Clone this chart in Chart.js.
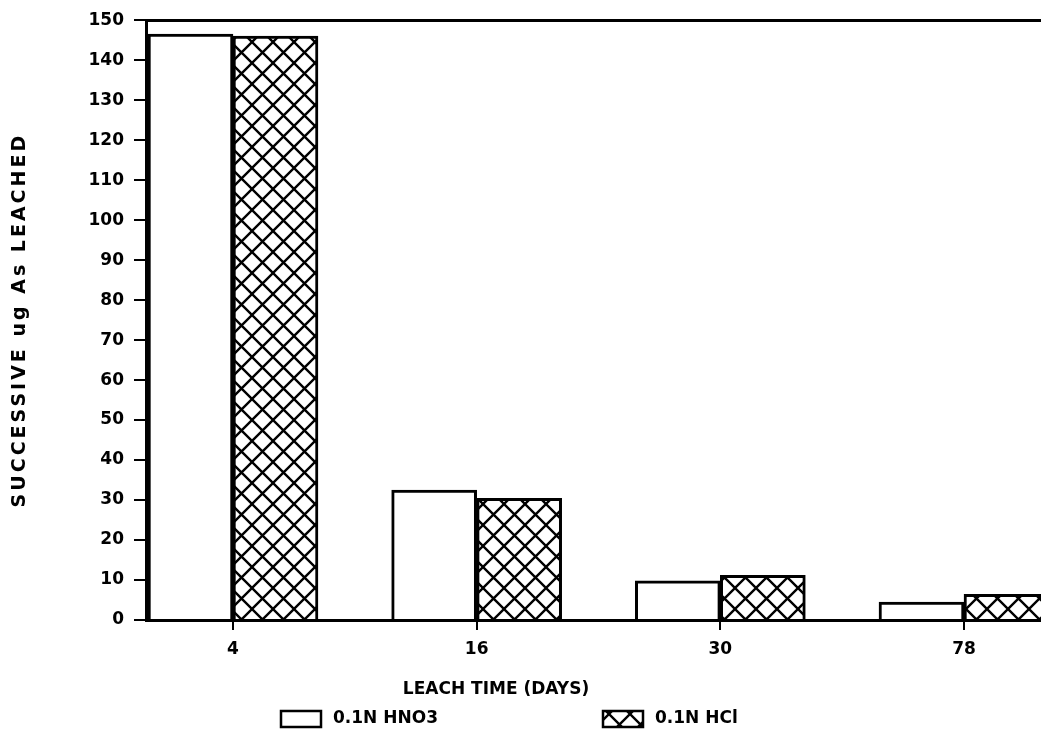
<!DOCTYPE html>
<html>
<head>
<meta charset="utf-8">
<script src="https://cdn.jsdelivr.net/npm/chart.js@4.4.1/dist/chart.umd.min.js"></script>
<style>
  html, body { margin: 0; padding: 0; background: #fff; }
  canvas { display: block; }
</style>
</head>
<body>
<canvas id="leachChart" width="1041" height="739"></canvas>
<script>
// leach time categories (days)
const categories = ['4', '16', '30', '78'];
// successive ug As leached
const hno3Values = [146.5, 32.5, 9.8, 4.5];
const hclValues = [146.0, 30.4, 11.2, 6.4];
const seriesNames = ['0.1N HNO3', '0.1N HCl'];
const yMin = 0, yMax = 150, yStep = 10;

const FONT = '"DejaVu Sans", sans-serif';

const canvas = document.getElementById('leachChart');
const ctx = canvas.getContext('2d');

// cross hatch fill like the old plotter pattern
function makeHatch() {
    const size = 21;
    const c = document.createElement('canvas');
    c.width = size;
    c.height = size;
    const g = c.getContext('2d');
    g.fillStyle = '#fff';
    g.fillRect(0, 0, size, size);
    g.strokeStyle = '#000';
    g.lineWidth = 2.4;
    g.beginPath();
    for (const off of [-size, 0, size]) {
        g.moveTo(off, 0);
        g.lineTo(off + size, size);
        g.moveTo(off + size, 0);
        g.lineTo(off, size);
    }
    g.stroke();
    return ctx.createPattern(c, 'repeat');
}
const hatch = makeHatch();

// titles + legend drawn under the axis
const extraText = {
    id: 'extraText',
    afterDraw(chart) {
        const c = chart.ctx;
        const area = chart.chartArea;
        c.save();
        c.fillStyle = '#000';
        c.textBaseline = 'middle';

        // y title
        c.save();
        c.translate(20, (area.top + area.bottom) / 2);
        c.rotate(-Math.PI / 2);
        c.font = '600 19px ' + FONT;
        c.letterSpacing = '3px';
        c.textAlign = 'center';
        c.fillText('SUCCESSIVE ug As LEACHED', 0, 0);
        c.restore();

        // x title
        c.font = '600 17px ' + FONT;
        c.letterSpacing = '0px';
        c.textAlign = 'center';
        c.fillText('LEACH TIME (DAYS)', 496, 690);

        // legend
        c.textAlign = 'left';
        c.lineWidth = 2.5;
        c.strokeStyle = '#000';
        const items = [
            { x: 281, fill: '#fff', label: seriesNames[0] },
            { x: 603, fill: hatch, label: seriesNames[1] }
        ];
        items.forEach(it => {
            c.fillStyle = it.fill;
            c.fillRect(it.x, 711, 40, 16);
            c.strokeRect(it.x, 711, 40, 16);
            c.fillStyle = '#000';
            c.fillText(it.label, it.x + 52, 719);
        });
        c.restore();
    }
};

new Chart(ctx, {
    type: 'bar',
    data: {
        datasets: [
            {
                label: seriesNames[0],
                data: hno3Values.map((v, i) => ({ x: i, y: v })),
                backgroundColor: '#fff',
                borderColor: '#000',
                borderWidth: 3,
                barThickness: 85,
            },
            {
                label: seriesNames[1],
                data: hclValues.map((v, i) => ({ x: i, y: v })),
                backgroundColor: hatch,
                borderColor: '#000',
                borderWidth: 3,
                barThickness: 85,
            },
        ],
    },
    options: {
        responsive: false,
        animation: false,
        layout: { padding: 0 },
        plugins: {
            legend: { display: false },
            tooltip: { enabled: false },
        },
        scales: {
            x: {
                type: 'linear',
                position: 'bottom',
                offset: false,
                min: -0.357,
                max: 3.316,
                afterBuildTicks: (scale) => {
                    scale.ticks = categories.map((_, i) => ({ value: i }));
                },
                afterFit: (scale) => { scale.height = 119; },
                ticks: {
                    callback: (v) => categories[v],
                    color: '#000',
                    font: { family: FONT, size: 17, weight: '600' },
                    padding: 9,
                    maxRotation: 0,
                    autoSkip: false,
                },
                grid: {
                    offset: false,
                    drawOnChartArea: false,
                    tickLength: 10,
                    color: '#000',
                    lineWidth: 2,
                },
                border: { color: '#000', width: 3 },
            },
            xTop: {
                type: 'linear',
                position: 'top',
                ticks: { display: false },
                grid: { drawOnChartArea: false, drawTicks: false },
                border: { color: '#000', width: 3 },
                afterFit: (scale) => { scale.height = 15; },
            },
            y: {
                min: yMin,
                max: yMax,
                afterFit: (scale) => { scale.width = 146; },
                ticks: {
                    stepSize: yStep,
                    color: '#000',
                    font: { family: FONT, size: 17, weight: '600' },
                    padding: 10,
                },
                grid: {
                    drawOnChartArea: false,
                    tickLength: 12,
                    color: '#000',
                    lineWidth: 2,
                },
                border: { color: '#000', width: 3 },
            },
        },
    },
    plugins: [extraText],
});
</script>
</body>
</html>
